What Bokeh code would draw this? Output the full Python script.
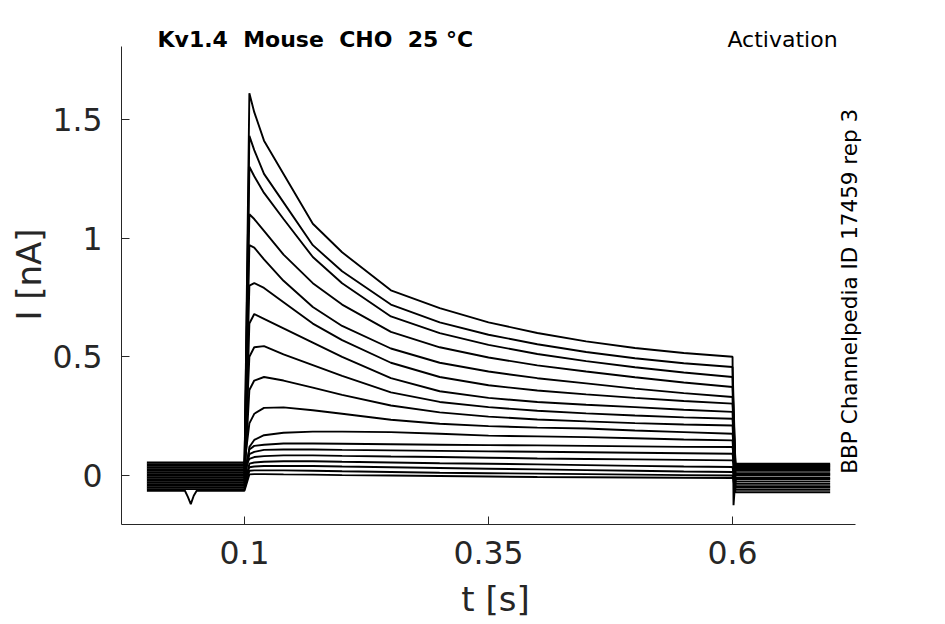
import math
from bokeh.plotting import figure
from bokeh.models import Label, FixedTicker, CustomJSTickFormatter
from bokeh.embed import file_html
from bokeh.resources import INLINE

# ---------------- data ----------------
PRE_T_START = 0.0
STEP_ON = 0.1
STEP_OFF = 0.6
POST_T_START = 0.603
POST_T_END = 0.7

# time samples during the voltage step [s]
PULSE_T = [0.105, 0.11, 0.12, 0.14, 0.17, 0.2, 0.25, 0.3, 0.35, 0.4, 0.45, 0.5, 0.55, 0.6]

# current [nA] of each sweep at PULSE_T
I_PULSE = [
    [1.61, 1.53, 1.41, 1.27, 1.06, 0.94, 0.78, 0.705, 0.645, 0.60, 0.565, 0.537, 0.516, 0.50],
    [1.43, 1.37, 1.27, 1.15, 0.97, 0.86, 0.72, 0.645, 0.593, 0.553, 0.52, 0.494, 0.473, 0.457],
    [1.30, 1.26, 1.19, 1.08, 0.92, 0.81, 0.67, 0.60, 0.55, 0.512, 0.482, 0.456, 0.434, 0.415],
    [1.10, 1.08, 1.03, 0.93, 0.81, 0.72, 0.605, 0.54, 0.497, 0.464, 0.438, 0.414, 0.392, 0.373],
    [0.97, 0.96, 0.91, 0.82, 0.71, 0.63, 0.535, 0.475, 0.438, 0.41, 0.388, 0.366, 0.347, 0.331],
    [0.80, 0.81, 0.79, 0.73, 0.64, 0.57, 0.475, 0.415, 0.38, 0.358, 0.342, 0.327, 0.314, 0.303],
    [0.64, 0.68, 0.66, 0.62, 0.56, 0.50, 0.41, 0.355, 0.327, 0.31, 0.298, 0.288, 0.277, 0.268],
    [0.50, 0.54, 0.545, 0.51, 0.465, 0.42, 0.35, 0.31, 0.288, 0.273, 0.262, 0.253, 0.245, 0.239],
    [0.36, 0.40, 0.415, 0.40, 0.37, 0.34, 0.295, 0.266, 0.248, 0.236, 0.228, 0.221, 0.215, 0.211],
    [0.22, 0.26, 0.285, 0.287, 0.275, 0.26, 0.235, 0.218, 0.208, 0.202, 0.198, 0.19, 0.183, 0.176],
    [0.12, 0.15, 0.17, 0.18, 0.185, 0.185, 0.183, 0.176, 0.168, 0.165, 0.162, 0.157, 0.152, 0.148],
    [0.11, 0.125, 0.13, 0.135, 0.135, 0.134, 0.132, 0.13, 0.128, 0.127, 0.125, 0.123, 0.121, 0.12],
    [0.09, 0.10, 0.108, 0.11, 0.11, 0.108, 0.106, 0.104, 0.102, 0.10, 0.098, 0.096, 0.094, 0.092],
    [0.07, 0.078, 0.082, 0.085, 0.085, 0.083, 0.08, 0.078, 0.075, 0.072, 0.07, 0.068, 0.066, 0.064],
    [0.05, 0.055, 0.058, 0.06, 0.06, 0.058, 0.055, 0.052, 0.05, 0.047, 0.044, 0.041, 0.038, 0.036],
    [0.035, 0.038, 0.04, 0.04, 0.04, 0.038, 0.035, 0.032, 0.029, 0.026, 0.023, 0.02, 0.017, 0.015],
    [0.02, 0.022, 0.022, 0.022, 0.02, 0.018, 0.015, 0.012, 0.01, 0.008, 0.006, 0.004, 0.002, 0.0],
    [0.005, 0.006, 0.006, 0.005, 0.004, 0.002, 0.0, -0.002, -0.004, -0.006, -0.007, -0.008, -0.009, -0.01],
]

# holding-current level of each sweep before and after the step [nA]
PRE_LEVEL = [0.006, 0.041, -0.029, 0.055, -0.008, 0.020, -0.050, 0.034, -0.015,
             0.048, -0.036, 0.013, -0.001, 0.027, -0.043, -0.022, -0.057, -0.064]
POST_LEVEL = [-0.010, 0.030, -0.045, 0.050, 0.000, 0.040, -0.060, 0.020, -0.025,
              0.045, -0.035, 0.010, -0.015, 0.035, -0.050, 0.025, -0.070, 0.005]

# artefact dip in one sweep's baseline
DIP_T = [0.039, 0.042, 0.045, 0.048, 0.051]
DIP_I = [-0.064, -0.09, -0.12, -0.085, -0.064]
DIP_SWEEP = 17

# capacitive spike at step offset (first sweep)
SPIKE_T = 0.601
SPIKE_I = -0.125

X_TICKS = [0.1, 0.35, 0.6]
Y_TICKS = [0, 0.5, 1, 1.5]

TITLE_LEFT = "Kv1.4 \u00a0Mouse \u00a0CHO \u00a025 °C"
TITLE_RIGHT = "Activation"
SIDE_NOTE = "BBP Channelpedia ID 17459 rep 3"

# ---------------- figure ----------------
FONT = "DejaVu Sans"
AX = "#262626"

p = figure(width=929, height=621,
           min_border_left=121, min_border_right=60,
           min_border_top=24, min_border_bottom=96,
           x_range=(-0.026, 0.7403), y_range=(-0.206, 1.899),
           output_backend="svg", toolbar_location=None,
           background_fill_color="white", border_fill_color="white")
p.outline_line_color = None
p.grid.visible = False

for ax in (p.xaxis[0], p.yaxis[0]):
    ax.axis_line_color = AX
    ax.axis_line_width = 1
    ax.major_tick_line_color = AX
    ax.major_tick_in = 8
    ax.major_tick_out = 0
    ax.minor_tick_line_color = None
    ax.major_label_text_font = FONT
    ax.major_label_text_font_size = "31.5px"
    ax.major_label_text_color = AX
    ax.axis_label_text_font = FONT
    ax.axis_label_text_font_size = "34px"
    ax.axis_label_text_font_style = "normal"
    ax.axis_label_text_color = AX
    ax.formatter = CustomJSTickFormatter(code="return tick.toString();")

p.xaxis.ticker = FixedTicker(ticks=X_TICKS)
p.yaxis.ticker = FixedTicker(ticks=Y_TICKS)
p.xaxis.bounds = (-0.026, 0.726)
p.yaxis.bounds = (-0.206, 1.807)
p.xaxis.axis_label = "t [s]"
p.yaxis.axis_label = "I [nA]"
p.xaxis.major_label_standoff = 16
p.yaxis.major_label_standoff = 19
p.xaxis.axis_label_standoff = 12
p.yaxis.axis_label_standoff = 0

for k, vals in enumerate(I_PULSE):
    ts = [PRE_T_START]
    ys = [PRE_LEVEL[k]]
    if k == DIP_SWEEP:
        ts += DIP_T
        ys += DIP_I
    ts += [STEP_ON]
    ys += [PRE_LEVEL[k]]
    ts += PULSE_T
    ys += vals
    if k == 0:
        ts += [SPIKE_T]
        ys += [SPIKE_I]
    ts += [POST_T_START, POST_T_END]
    ys += [POST_LEVEL[k], POST_LEVEL[k]]
    p.line(ts, ys, line_color="black", line_width=1.9)

p.add_layout(Label(x=0.0109, y=1.807, y_offset=7, text=TITLE_LEFT,
                   text_font=FONT, text_font_size="22px", text_font_style="bold",
                   text_color="black", text_baseline="alphabetic", text_align="left"))
p.add_layout(Label(x=0.7076, y=1.807, y_offset=7, text=TITLE_RIGHT,
                   text_font=FONT, text_font_size="22px",
                   text_color="black", text_baseline="alphabetic", text_align="right"))
p.add_layout(Label(x=0.7198, y=0.008, text=SIDE_NOTE,
                   angle=math.pi / 2, text_font=FONT, text_font_size="21.5px",
                   text_color="black", text_baseline="alphabetic", text_align="left"))

open("out.html", "w").write(file_html(p, INLINE))
